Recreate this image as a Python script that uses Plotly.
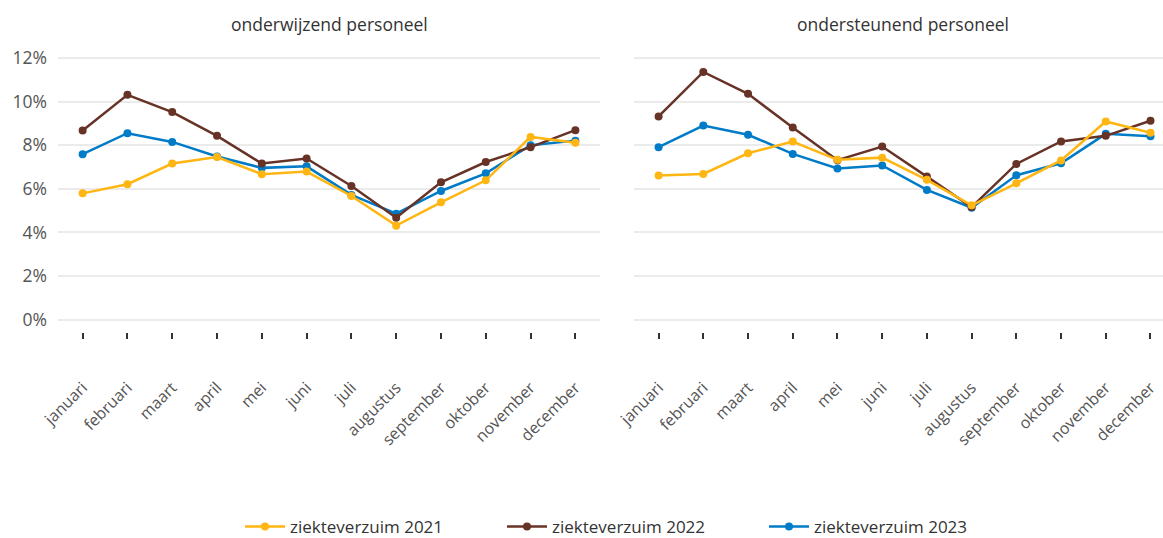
import plotly.graph_objects as go

months = ["januari", "februari", "maart", "april", "mei", "juni", "juli",
          "augustus", "september", "oktober", "november", "december"]

panel_titles = ["onderwijzend personeel", "ondersteunend personeel"]

# onderwijzend personeel (%)
ow_2021 = [5.79, 6.21, 7.16, 7.46, 6.67, 6.79, 5.67, 4.31, 5.38, 6.39, 8.38, 8.11]
ow_2022 = [8.67, 10.31, 9.52, 8.43, 7.16, 7.39, 6.13, 4.67, 6.30, 7.23, 7.91, 8.69]
ow_2023 = [7.59, 8.55, 8.15, 7.48, 6.96, 7.03, 5.72, 4.86, 5.90, 6.71, 8.00, 8.21]

# ondersteunend personeel (%)
os_2021 = [6.61, 6.68, 7.63, 8.17, 7.33, 7.43, 6.41, 5.24, 6.25, 7.30, 9.09, 8.57]
os_2022 = [9.32, 11.36, 10.36, 8.81, 7.31, 7.94, 6.56, 5.16, 7.14, 8.17, 8.43, 9.12]
os_2023 = [7.91, 8.90, 8.48, 7.60, 6.93, 7.07, 5.95, 5.13, 6.62, 7.17, 8.52, 8.41]

series_names = ["ziekteverzuim 2021", "ziekteverzuim 2022", "ziekteverzuim 2023"]
colors = ["#FFB612", "#673327", "#007BC7"]

y_ticks = [0, 2, 4, 6, 8, 10, 12]
y_ticktext = [f"{v}%" for v in y_ticks]

fig = go.Figure()

panels = [
    ("x", "y", [ow_2021, ow_2022, ow_2023], True),
    ("x2", "y2", [os_2021, os_2022, os_2023], False),
]
# draw order: 2023 first, then 2022, then 2021 on top
for xa, ya, data, show in panels:
    for idx in [2, 1, 0]:
        fig.add_trace(go.Scatter(
            x=months, y=data[idx], mode="lines+markers",
            name=series_names[idx],
            line=dict(color=colors[idx], width=2.5),
            marker=dict(color=colors[idx], size=8),
            xaxis=xa, yaxis=ya, showlegend=show,
            legendrank=idx + 1,
        ))

W, H = 1163, 538
xdom1 = [58 / W, 600 / W]
xdom2 = [634 / W, 1.0]
ydom = [(H - 332) / H, (H - 49.3) / H]

tickfont = dict(family="Open Sans", size=16, color="#555555")

common_x = dict(
    type="category", showgrid=False, showline=False, zeroline=False,
    ticks="outside", ticklen=6, tickwidth=2, tickcolor="#333333",
    tickangle=-45, tickfont=tickfont, ticklabelstandoff=33, automargin=False,
)
common_y = dict(
    range=[-0.57, 12.4], tickvals=y_ticks, ticktext=y_ticktext,
    showgrid=True, gridcolor="#EBEBEB", gridwidth=2, zeroline=False,
    showline=False, ticks="", automargin=False,
)

fig.update_layout(
    width=W, height=H,
    margin=dict(l=0, r=0, t=0, b=0, pad=0, autoexpand=False),
    paper_bgcolor="white", plot_bgcolor="white",
    font=dict(family="Open Sans", color="#333333"),
    xaxis=dict(domain=xdom1, range=[-0.55, 11.55], anchor="y", **common_x),
    xaxis2=dict(domain=xdom2, range=[-0.55, 11.28], anchor="y2", **common_x),
    yaxis=dict(domain=ydom, anchor="x", showticklabels=True,
               tickfont=dict(family="Open Sans", size=17.5, color="#555555"),
               ticklabelstandoff=10, **common_y),
    yaxis2=dict(domain=ydom, anchor="x2", showticklabels=False, **common_y),
    legend=dict(orientation="h", x=240 / W, xanchor="left", y=(H - 527) / H, yanchor="middle",
                font=dict(family="Open Sans", size=17, color="#333333"),
                entrywidth=207, entrywidthmode="pixels", itemwidth=40),
    showlegend=True,
    annotations=[
        dict(text=panel_titles[0], x=329 / W, y=(H - 24) / H,
             xref="paper", yref="paper", showarrow=False, xanchor="center", yanchor="middle",
             font=dict(family="Open Sans", size=17.5, color="#333333")),
        dict(text=panel_titles[1], x=903 / W, y=(H - 24) / H,
             xref="paper", yref="paper", showarrow=False, xanchor="center", yanchor="middle",
             font=dict(family="Open Sans", size=17.5, color="#333333")),
    ],
)

fig.write_html("out.html", config={"displayModeBar": False},
               post_script="document.body.style.margin='0';")
